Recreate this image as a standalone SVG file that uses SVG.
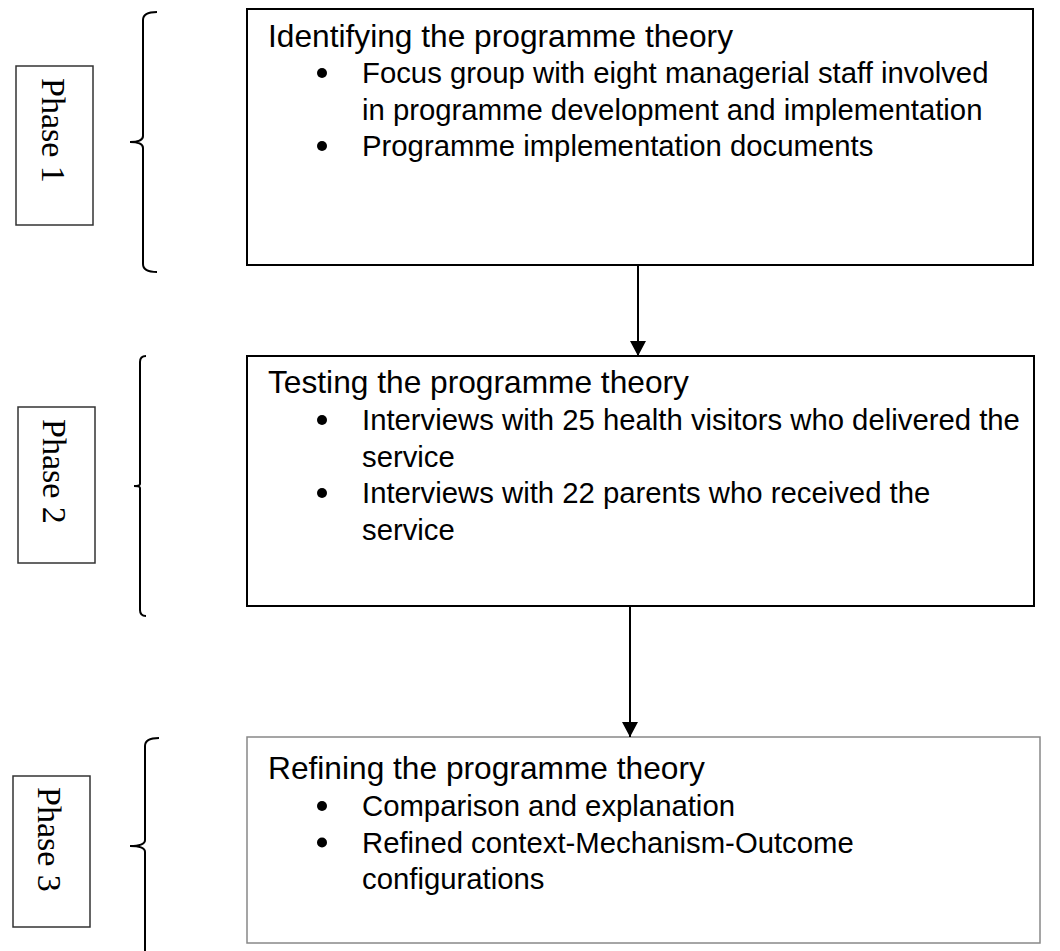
<svg xmlns="http://www.w3.org/2000/svg" width="1060" height="951" viewBox="0 0 1060 951">
<defs>
<style>
.box{fill:#fff;stroke:#000;stroke-width:2}
.box3{fill:#fff;stroke:#888;stroke-width:1.5}
.pbox{fill:#fff;stroke:#333;stroke-width:1.5}
.brace{fill:none;stroke:#000;stroke-width:2}
.h{font-family:"Liberation Sans",Arial,sans-serif;font-size:31.7px;fill:#000}
.t{font-family:"Liberation Sans",Arial,sans-serif;font-size:29.3px;fill:#000}
.p{font-family:"Liberation Serif","Times New Roman",serif;font-size:34px;fill:#000}
.conn{stroke:#000;stroke-width:2;fill:none}
</style>
<marker id="ah" viewBox="0 0 15 16" refX="15" refY="8" markerWidth="15" markerHeight="16" markerUnits="userSpaceOnUse" orient="auto">
<path d="M0,0 L15,8 L0,16 z" fill="#000"/>
</marker>
</defs>
<rect width="1060" height="951" fill="#fff"/>

<g id="phase1">
<rect class="pbox" x="16" y="66" width="77" height="159"/>
<text class="p" transform="translate(42,78) rotate(90)">Phase 1</text>
<path class="brace" d="M157,12 Q143,12 143,20 L143,136 Q143,142 130,142 Q143,142 143,148 L143,264 Q143,272 157,272"/>
</g>

<g id="phase2">
<rect class="pbox" x="18" y="407" width="77" height="156"/>
<text class="p" transform="translate(43,419) rotate(90)">Phase 2</text>
<path class="brace" d="M146,356 Q140,356 140,362 L140,484 Q140,486 134,486 Q140,486 140,488 L140,610 Q140,616 146,616"/>
</g>

<g id="phase3">
<rect class="pbox" x="13" y="776" width="77" height="151"/>
<text class="p" transform="translate(38,787) rotate(90)">Phase 3</text>
<path class="brace" d="M159,738 Q145,738 145,746 L145,840 Q145,846 130,846 Q145,846 145,852 L145,951"/>
</g>

<g id="node1">
<rect class="box" x="247" y="9" width="786" height="256"/>
<text class="h" x="268" y="47">Identifying the programme theory</text>
<circle cx="322" cy="73" r="5"/>
<text class="t" x="362" y="83">Focus group with eight managerial staff involved</text>
<text class="t" x="362" y="119.5">in programme development and implementation</text>
<circle cx="322" cy="146" r="5"/>
<text class="t" x="362" y="156">Programme implementation documents</text>
</g>

<g id="node2">
<rect class="box" x="247" y="356" width="787" height="250"/>
<text class="h" x="268" y="393">Testing the programme theory</text>
<circle cx="322" cy="420" r="5"/>
<text class="t" x="362" y="430">Interviews with 25 health visitors who delivered the</text>
<text class="t" x="362" y="466.5">service</text>
<circle cx="322" cy="493" r="5"/>
<text class="t" x="362" y="503">Interviews with 22 parents who received the</text>
<text class="t" x="362" y="539.5">service</text>
</g>

<g id="node3">
<rect class="box3" x="247" y="737" width="793" height="206"/>
<text class="h" x="268" y="779">Refining the programme theory</text>
<circle cx="322" cy="806" r="5"/>
<text class="t" x="362" y="816">Comparison and explanation</text>
<circle cx="322" cy="842.5" r="5"/>
<text class="t" x="362" y="852.5">Refined context-Mechanism-Outcome</text>
<text class="t" x="362" y="889">configurations</text>
</g>

<g id="connectors">
<line class="conn" x1="638" y1="265" x2="638" y2="356" marker-end="url(#ah)"/>
<line class="conn" x1="630" y1="606" x2="630" y2="737" marker-end="url(#ah)"/>
</g>
</svg>
